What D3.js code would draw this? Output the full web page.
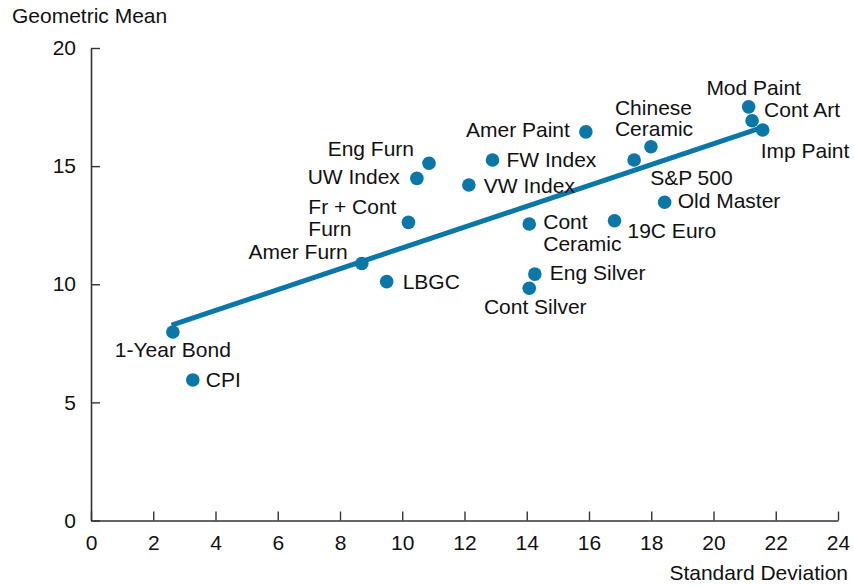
<!DOCTYPE html>
<html>
<head>
<meta charset="utf-8">
<script src="https://cdn.jsdelivr.net/npm/d3@7"></script>
<style>
  body { margin: 0; background: #fff; }
  text { font-family: "Liberation Sans", Arial, Helvetica, sans-serif; fill: #111; }
</style>
</head>
<body>
<div class="scatterGraph"></div>
<script>
// asset names, std dev (x) and geometric mean (y)
let names = ['1-Year Bond', 'CPI', 'Amer Furn', 'LBGC', 'Fr + Cont Furn', 'UW Index', 'Eng Furn',
  'VW Index', 'FW Index', 'Amer Paint', 'Cont Ceramic', 'Eng Silver', 'Cont Silver', '19C Euro',
  'S&P 500', 'Chinese Ceramic', 'Old Master', 'Mod Paint', 'Cont Art', 'Imp Paint'];
let stdDev = [2.63, 3.27, 8.70, 9.50, 10.20, 10.47, 10.86, 12.14, 12.90, 15.90, 14.08, 14.26, 14.08,
  16.82, 17.45, 17.99, 18.43, 21.13, 21.24, 21.58];
let geoMean = [7.98, 5.95, 10.88, 10.11, 12.62, 14.48, 15.12, 14.20, 15.26, 16.45, 12.55, 10.43, 9.83,
  12.69, 15.26, 15.82, 13.47, 17.51, 16.92, 16.53];

// fitted line ends
let fitX = [2.59, 21.5];
let fitY = [8.27, 16.61];

let xTicks = [0, 2, 4, 6, 8, 10, 12, 14, 16, 18, 20, 22, 24];
let yTicks = [0, 5, 10, 15, 20];

// label placement: lines, dx, dy (first baseline), anchor
let labelPlace = {
  '1-Year Bond': { lines: ['1-Year Bond'], dx: 0, dy: 25, anchor: 'middle' },
  'CPI': { lines: ['CPI'], dx: 13, dy: 7, anchor: 'start' },
  'Amer Furn': { lines: ['Amer Furn'], dx: -14, dy: -4, anchor: 'end' },
  'LBGC': { lines: ['LBGC'], dx: 16, dy: 7, anchor: 'start' },
  'Fr + Cont Furn': { lines: ['Fr + Cont', 'Furn'], dx: -12, dy: -8, anchor: 'block-left' },
  'UW Index': { lines: ['UW Index'], dx: -17, dy: 6, anchor: 'end' },
  'Eng Furn': { lines: ['Eng Furn'], dx: -15, dy: -7, anchor: 'end' },
  'VW Index': { lines: ['VW Index'], dx: 15, dy: 8, anchor: 'start' },
  'FW Index': { lines: ['FW Index'], dx: 14, dy: 7, anchor: 'start' },
  'Amer Paint': { lines: ['Amer Paint'], dx: -16, dy: 5, anchor: 'end' },
  'Cont Ceramic': { lines: ['Cont', 'Ceramic'], dx: 14, dy: 5, anchor: 'start' },
  'Eng Silver': { lines: ['Eng Silver'], dx: 15, dy: 6, anchor: 'start' },
  'Cont Silver': { lines: ['Cont Silver'], dx: 6, dy: 26, anchor: 'middle' },
  '19C Euro': { lines: ['19C Euro'], dx: 13, dy: 17, anchor: 'start' },
  'S&P 500': { lines: ['S&P 500'], dx: 16, dy: 25, anchor: 'start' },
  'Chinese Ceramic': { lines: ['Chinese', 'Ceramic'], dx: -36, dy: -32, anchor: 'start' },
  'Old Master': { lines: ['Old Master'], dx: 13, dy: 6, anchor: 'start' },
  'Mod Paint': { lines: ['Mod Paint'], dx: 5, dy: -12, anchor: 'middle' },
  'Cont Art': { lines: ['Cont Art'], dx: 12, dy: -4, anchor: 'start' },
  'Imp Paint': { lines: ['Imp Paint'], dx: -2, dy: 28, anchor: 'start' }
};

function drawScatterChart(d3) {
  let width = 854;
  let height = 586;
  let margin = { top: 48, bottom: 66, right: 16, left: 91 };
  let blue = '#0b76a8';
  let axisColor = '#333';
  let fontSize = 21;

  let data = names.map(function(n, i) { return { name: n, x: stdDev[i], y: geoMean[i] }; });

  let svg = d3.select('.scatterGraph')
    .append('svg')
    .attr('width', width)
    .attr('height', height);

  let xScale = d3.scaleLinear()
    .domain([0, 24])
    .range([margin.left, width - margin.right]);

  let yScale = d3.scaleLinear()
    .domain([0, 20])
    .range([height - margin.bottom + 0.5, margin.top]);

  // axes, ticks drawn inward
  let xAxis = svg.append('g')
    .attr('transform', 'translate(0,' + yScale(0) + ')')
    .call(d3.axisBottom(xScale).tickValues(xTicks).tickSize(-9).tickPadding(20).tickSizeOuter(0));

  let yAxis = svg.append('g')
    .attr('transform', 'translate(' + xScale(0) + ',0)')
    .call(d3.axisLeft(yScale).tickValues(yTicks).tickSize(-9).tickPadding(15).tickSizeOuter(0));

  [xAxis, yAxis].forEach(function(a) {
    a.select('.domain').attr('stroke', axisColor).attr('stroke-width', 1.6);
    a.selectAll('.tick line').attr('stroke', axisColor).attr('stroke-width', 1.4);
    a.selectAll('.tick text')
      .attr('font-size', fontSize)
      .style('font-family', '"Liberation Sans", Arial, sans-serif')
      .attr('fill', '#111');
  });
  xAxis.selectAll('.tick text').attr('dy', '0.71em').attr('y', 15);

  // axis titles
  svg.append('text')
    .attr('x', 12)
    .attr('y', 23)
    .attr('font-size', fontSize)
    .text('Geometric Mean');

  svg.append('text')
    .attr('x', 848)
    .attr('y', 580)
    .attr('text-anchor', 'end')
    .attr('font-size', fontSize)
    .text('Standard Deviation');

  // fitted line
  svg.append('line')
    .attr('x1', xScale(fitX[0]))
    .attr('y1', yScale(fitY[0]))
    .attr('x2', xScale(fitX[1]))
    .attr('y2', yScale(fitY[1]))
    .attr('stroke', blue)
    .attr('stroke-width', 5);

  svg.selectAll('.circle')
    .data(data)
    .enter().append('circle')
    .attr('class', 'circle')
    .attr('cx', function(d) { return xScale(d.x); })
    .attr('cy', function(d) { return yScale(d.y); })
    .attr('r', 6.8)
    .attr('fill', blue);

  // labels
  data.forEach(function(d) {
    let p = labelPlace[d.name];
    let px = xScale(d.x) + p.dx;
    let py = yScale(d.y) + p.dy;
    let t = svg.append('text')
      .attr('font-size', fontSize)
      .attr('text-anchor', p.anchor === 'block-left' ? 'start' : p.anchor);
    p.lines.forEach(function(line, i) {
      t.append('tspan')
        .attr('x', px)
        .attr('y', py + i * 21.5)
        .text(line);
    });
    if (p.anchor === 'block-left') {
      // widest line ends at px, lines left aligned
      let w = d3.max(t.selectAll('tspan').nodes(), function(n) { return n.getComputedTextLength(); });
      t.selectAll('tspan').attr('x', px - w);
    }
  });
}

drawScatterChart(d3);
</script>
</body>
</html>
